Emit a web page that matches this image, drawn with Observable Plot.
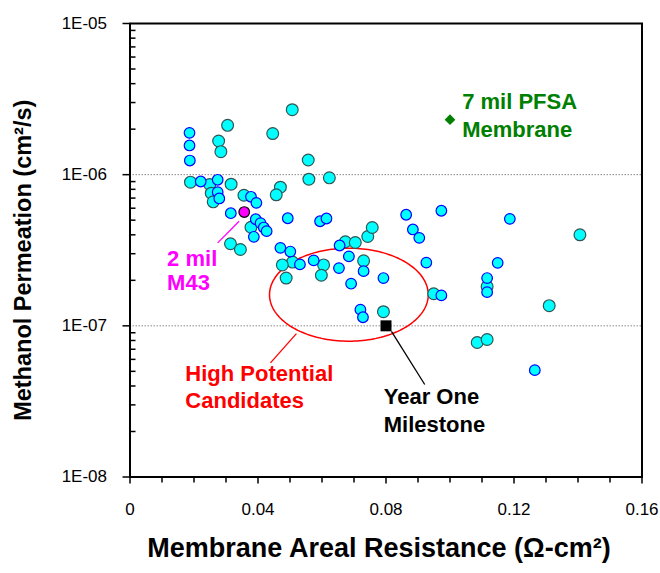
<!DOCTYPE html>
<html>
<head>
<meta charset="utf-8">
<script src="https://cdn.jsdelivr.net/npm/d3@7"></script>
<script src="https://cdn.jsdelivr.net/npm/@observablehq/plot@0.6"></script>
<style>
  html, body { margin: 0; padding: 0; background: white; }
</style>
</head>
<body>
<div id="chart"></div>
<script>
// Series A: cyan markers with blue outline
const seriesAx = [0.0186,0.0186,0.0187,0.0221,0.0274,0.0274,0.0279,0.0378,0.0395,0.0315,0.0393,0.0408,0.0418,0.0427,0.0387,0.0493,0.0470,0.0501,0.0594,0.0614,0.0863,0.0884,0.0904,0.0531,0.0574,0.0655,0.0684,0.0653,0.0730,0.0792,0.0691,0.0926,0.0720,0.0728,0.0973,0.1187,0.1149,0.1116,0.1116,0.0973,0.1265];
const seriesAy = [1.89e-6,1.56e-6,1.24e-6,9.01e-7,9.25e-7,7.66e-7,6.96e-7,7.14e-7,6.51e-7,5.56e-7,5.07e-7,4.78e-7,4.47e-7,4.23e-7,3.88e-7,5.15e-7,3.28e-7,3.10e-7,4.92e-7,5.13e-7,5.43e-7,4.34e-7,3.82e-7,2.55e-7,2.71e-7,3.40e-7,2.88e-7,2.41e-7,2.30e-7,2.07e-7,1.90e-7,2.62e-7,1.28e-7,1.14e-7,5.77e-7,5.10e-7,2.61e-7,2.07e-7,1.67e-7,1.59e-7,5.09e-8];
// Series B: cyan markers with dark outline
const seriesBx = [0.0305,0.0277,0.0284,0.0507,0.0446,0.0557,0.0559,0.0189,0.0249,0.0316,0.0254,0.0260,0.0470,0.0457,0.0356,0.0378,0.0314,0.0345,0.0508,0.0476,0.0488,0.0605,0.0598,0.0673,0.0704,0.0743,0.0757,0.0730,0.0792,0.1406,0.1116,0.0949,0.1310,0.1085,0.1116,0.0623];
const seriesBy = [2.12e-6,1.67e-6,1.42e-6,2.69e-6,1.87e-6,1.25e-6,9.33e-7,8.92e-7,8.61e-7,8.65e-7,7.54e-7,6.61e-7,8.26e-7,7.36e-7,7.31e-7,4.49e-7,3.49e-7,3.20e-7,2.64e-7,2.53e-7,2.07e-7,2.53e-7,2.16e-7,3.60e-7,3.56e-7,3.90e-7,4.47e-7,2.69e-7,1.24e-7,4.00e-7,1.82e-7,1.63e-7,1.36e-7,7.76e-8,8.12e-8,9.53e-7];
// Special points
const m43Point = {x: 0.0357, y: 5.66e-7};
const pfsaPoint = {x: 0.100, y: 2.31e-6};
const milestonePoint = {x: 0.080, y: 1.0e-7};

// Axis ticks
const xTickValues = [0, 0.04, 0.08, 0.12, 0.16];
const xTickLabels = ["0", "0.04", "0.08", "0.12", "0.16"];
const xMinorTicks = [0.01,0.02,0.03,0.05,0.06,0.07,0.09,0.10,0.11,0.13,0.14,0.15];
const yTickValues = [1e-8, 1e-7, 1e-6, 1e-5];
const yTickLabels = ["1E-08", "1E-07", "1E-06", "1E-05"];
const yMinorTicks = [1e-8, 1e-7, 1e-6].flatMap(d => [2,3,4,5,6,7,8,9].map(k => k * d));
const gridValues = [1e-6, 1e-7];

// Annotation texts and anchors (data units, last line baseline)
const labelText = ["7 mil PFSA\nMembrane", "2 mil\nM43", "High Potential\nCandidates", "Year One\nMilestone"];
const labelX = [0.1038, 0.0116, 0.0173, 0.0793];
const labelY = [1.77e-6, 1.73e-7, 2.84e-8, 1.98e-8];
const labelColor = ["#008000", "#FF00FF", "#FF0000", "#000000"];
const labelLineHeight = [1.29, 1.09, 1.23, 1.26];

// Leader lines (data units)
const leaderLines = [
  {x1: 0.0341, y1: 4.92e-7, x2: 0.0274, y2: 3.54e-7, color: "#FF00FF"},
  {x1: 0.0520, y1: 8.89e-8, x2: 0.0439, y2: 5.69e-8, color: "#FF0000"},
  {x1: 0.0817, y1: 9.18e-8, x2: 0.0921, y2: 4.09e-8, color: "#000000"}
];
// Highlight ellipse (center, x radius, log10 y radius)
const ellipseSpec = {cx: 0.0684, cyLog: -6.794, rx: 0.0248, ryLog: 0.3076};
const ellipsePts = d3.range(0, 361, 2).map(a => {
  const t = a * Math.PI / 180;
  return {x: ellipseSpec.cx + ellipseSpec.rx * Math.cos(t), y: Math.pow(10, ellipseSpec.cyLog + ellipseSpec.ryLog * Math.sin(t))};
});

const xTitle = "Membrane Areal Resistance (Ω-cm²)";
const yTitle = "Methanol Permeation (cm²/s)";

const seriesA = seriesAx.map((x, i) => ({x, y: seriesAy[i]}));
const seriesB = seriesBx.map((x, i) => ({x, y: seriesBy[i]}));
const xLabelMap = new Map(xTickValues.map((v, i) => [v, xTickLabels[i]]));
const yLabelMap = new Map(yTickValues.map((v, i) => [v, yTickLabels[i]]));

const font = "Liberation Sans, Arial, sans-serif";

const labelMarks = labelText.map((t, i) => Plot.text([t], {
  x: () => labelX[i], y: () => labelY[i], text: d => d,
  fill: labelColor[i], fontSize: 22, fontWeight: "bold",
  textAnchor: "start", lineAnchor: "bottom", lineHeight: labelLineHeight[i]
}));

const chart = Plot.plot({
  width: 660, height: 573,
  marginLeft: 129.5, marginRight: 18.5, marginTop: 23, marginBottom: 96.5,
  style: {fontFamily: font, background: "white", color: "black", overflow: "visible"},
  x: {domain: [0, 0.16]},
  y: {type: "log", domain: [1e-8, 1e-5]},
  marks: [
    Plot.ruleY(gridValues, {stroke: "#888", strokeWidth: 1, strokeDasharray: "1.5,1.5"}),
    Plot.line(ellipsePts, {x: "x", y: "y", stroke: "#FF0000", strokeWidth: 1.5}),
    Plot.link(leaderLines, {x1: "x1", y1: "y1", x2: "x2", y2: "y2", stroke: "color", strokeWidth: 1.3}),
    Plot.dot(seriesB, {x: "x", y: "y", r: 5.9, fill: "#00FFFF", stroke: "#2F5656", strokeWidth: 1.2}),
    Plot.dot(seriesA, {x: "x", y: "y", r: 5.3, fill: "#00FFFF", stroke: "#0000FF", strokeWidth: 1.2}),
    Plot.dot([m43Point], {x: "x", y: "y", r: 5.3, fill: "#FF00FF", stroke: "black", strokeWidth: 1.2}),
    Plot.dot([pfsaPoint], {x: "x", y: "y", r: 4.8, symbol: "diamond2", fill: "#008000", stroke: "none"}),
    Plot.dot([milestonePoint], {x: "x", y: "y", r: 6.2, symbol: "square", fill: "black", stroke: "none"}),
    ...labelMarks,
    Plot.frame({stroke: "black", strokeWidth: 2}),
    Plot.axisX({ticks: xTickValues, tickFormat: d => xLabelMap.get(d), tickSize: 7, tickPadding: 19, fontSize: 17, strokeWidth: 1.5, label: null}),
    Plot.axisX({ticks: xMinorTicks, tickSize: 6, fill: "none", strokeWidth: 1.5, label: null}),
    Plot.axisY({ticks: yTickValues, tickFormat: d => yLabelMap.get(d), tickSize: 7, tickPadding: 16, fontSize: 17, strokeWidth: 1.5, label: null}),
    Plot.axisY({ticks: yMinorTicks, tickSize: -6, fill: "none", strokeWidth: 1.5, label: null}),
    Plot.text([xTitle], {frameAnchor: "bottom", dx: -7, dy: 80, lineAnchor: "bottom", textAnchor: "middle", fontSize: 27, fontWeight: "bold", fill: "black"}),
    Plot.text([yTitle], {frameAnchor: "left", dx: -106.5, dy: 10, rotate: -90, lineAnchor: "middle", textAnchor: "middle", fontSize: 23.5, fontWeight: "bold", fill: "black"})
  ]
});
document.getElementById("chart").appendChild(chart);
</script>
</body>
</html>
